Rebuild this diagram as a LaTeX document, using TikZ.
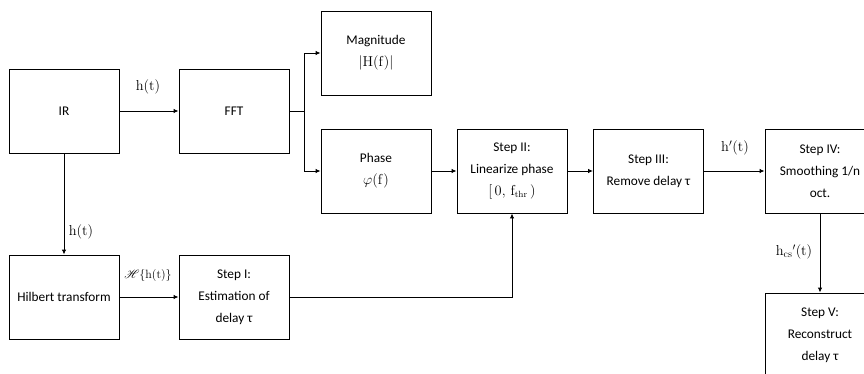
\documentclass[tikz,border=0pt]{standalone}
\usepackage[no-math]{fontspec}
\setmainfont{Carlito}
\usepackage{amsmath}
\usepackage{mathrsfs}
\usetikzlibrary{arrows.meta}
\tikzset{
  blk/.style={draw, line width=0.9pt, minimum width=110pt, minimum height=84pt,
    align=center, inner sep=2pt, font=\fontsize{13.3}{22}\selectfont},
  flow/.style={line width=0.9pt, -{Latex[length=5pt,width=4.5pt]}},
  lbl/.style={font=\fontsize{14.5}{17}\selectfont, inner sep=1pt}
}
\begin{document}
\begin{tikzpicture}[x=1pt,y=-1pt]
\useasboundingbox (0,0) rectangle (864,374);
\clip (0,0) rectangle (864,374);
% blocks
\node[blk] (ir)    at (64,111)  {IR};
\node[blk] (fft)   at (234,111) {FFT};
\node[blk] (mag)   at (376,53)  {Magnitude\\$|\mathrm{H(f)}|$};
\node[blk] (phase) at (376,171) {Phase\\$\varphi(\mathrm{f})$};
\node[blk] (s2)    at (512,171) {Step II:\\Linearize phase\\$[\,0,\,\mathrm{f}_{\mathrm{thr}}\,)$};
\node[blk] (s3)    at (648.5,171) {Step III:\\Remove delay τ};
\node[blk] (s4)    at (820,171) {Step IV:\\Smoothing 1/n\\oct.};
\node[blk] (hil)   at (64,297)  {Hilbert transform};
\node[blk] (s1)    at (234,297) {Step I:\\Estimation of\\delay τ};
\node[blk] (s5)    at (820,335) {Step V:\\Reconstruct\\delay τ};
% branch point after the FFT
\coordinate (br) at (304,111);
% connectors
\draw[flow] (ir) -- (fft);
\draw[line width=0.9pt] (fft.east) -- (br);
\draw[flow] (br) |- (mag.west);
\draw[flow] (br) |- (phase.west);
\draw[flow] (phase) -- (s2);
\draw[flow] (s2) -- (s3);
\draw[flow] (s3) -- (s4);
\draw[flow] (ir) -- (hil);
\draw[flow] (hil) -- (s1);
\draw[flow] (s1.east) -| (s2.south);
\draw[flow] (s4) -- (s5);
% signal labels
\node[lbl] (l1) at (148,87)  {$\mathrm{h(t)}$};
\node[lbl] (l2) at (81,232)  {$\mathrm{h(t)}$};
\node[lbl, font=\fontsize{12}{14}\selectfont] (l3) at (148,275) {$\mathscr{H}\{\mathrm{h(t)}\}$};
\node[lbl] (l4) at (735,148) {$\mathrm{h}'(\mathrm{t})$};
\node[lbl] (l5) at (794,252) {$\mathrm{h}_{\mathrm{cs}}{}'(\mathrm{t})$};
\end{tikzpicture}
\end{document}
